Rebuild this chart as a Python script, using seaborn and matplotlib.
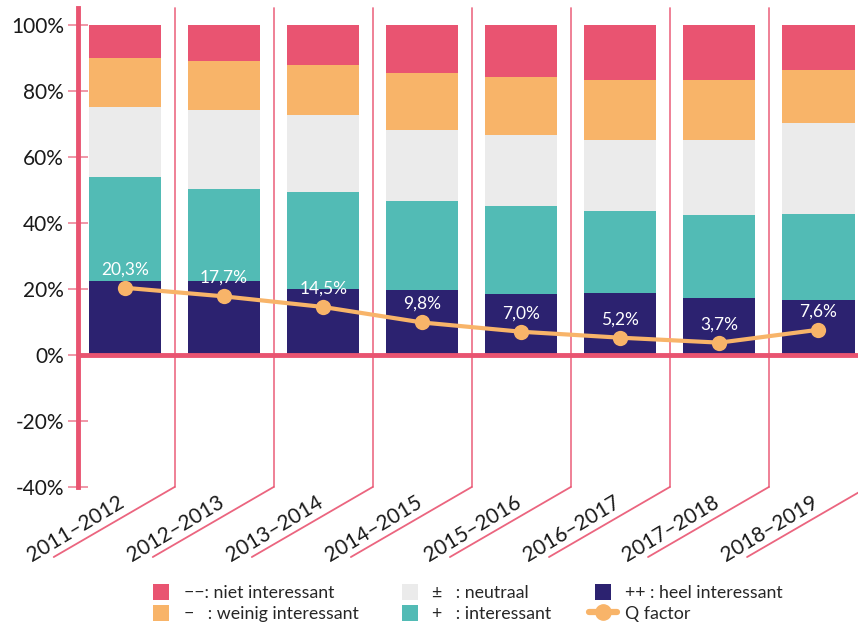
import numpy as np
import pandas as pd
import matplotlib
matplotlib.use("Agg")
import matplotlib.pyplot as plt
from matplotlib.patches import Patch, Rectangle
from matplotlib.lines import Line2D
from matplotlib.legend_handler import HandlerPatch
import seaborn as sns

# Seasons and answer shares (percent of respondents)
seasons = ["2011–2012", "2012–2013", "2013–2014", "2014–2015",
           "2015–2016", "2016–2017", "2017–2018", "2018–2019"]
heel_interessant = [22.4, 22.4, 20.0, 19.7, 18.5, 18.8, 17.2, 16.6]
interessant = [31.5, 27.8, 29.3, 26.9, 26.6, 24.8, 25.2, 26.1]
neutraal = [21.1, 23.9, 23.3, 21.5, 21.5, 21.5, 22.7, 27.5]
weinig_interessant = [14.9, 14.9, 15.1, 17.2, 17.5, 18.1, 18.1, 16.0]
niet_interessant = [10.1, 11.0, 12.3, 14.7, 15.9, 16.8, 16.8, 13.8]
q_factor = [20.3, 17.7, 14.5, 9.8, 7.0, 5.2, 3.7, 7.6]
y_ticks = [-40, -20, 0, 20, 40, 60, 80, 100]

PINK = "#E95471"
ORANGE = "#F8B469"
GREY = "#EBEBEB"
TEAL = "#52BBB5"
NAVY = "#2C2270"

sns.set_style("white")
plt.rcParams["font.family"] = ["Lato", "DejaVu Sans"]

fig = plt.figure(figsize=(8.58, 6.27), dpi=100)
ax = fig.add_axes([78 / 858, 140 / 627, 780 / 858, 479 / 627])

# stacked bars: draw cumulative totals from the top layer down
layers = [
    ("−−: niet interessant", niet_interessant, PINK),
    ("−   : weinig interessant", weinig_interessant, ORANGE),
    ("±   : neutraal", neutraal, GREY),
    ("+   : interessant", interessant, TEAL),
    ("++ : heel interessant", heel_interessant, NAVY),
]
stack = np.zeros(len(seasons))
tops = []
for name, vals, col in reversed(layers):
    stack = stack + np.array(vals)
    tops.append((name, stack.copy(), col))
for name, top, col in reversed(tops):
    df = pd.DataFrame({"season": seasons, "value": top})
    sns.barplot(data=df, x="season", y="value", color=col, width=0.73,
                saturation=1, linewidth=0, ax=ax, zorder=2)

# Q factor line
qdf = pd.DataFrame({"pos": np.arange(len(seasons)), "q": q_factor})
sns.lineplot(data=qdf, x="pos", y="q", color=ORANGE, lw=3, marker="o",
             markersize=11, markeredgewidth=0, ax=ax, zorder=5)
for i, q in enumerate(q_factor):
    ax.text(i, q + 5.6, f"{q:.1f}%".replace(".", ","), color="white",
            ha="center", va="center", fontsize=12.5, zorder=6)

ax.set_xlim(-0.475, 7.40)
ax.set_ylim(-40, 105)
ax.set_xlabel("")
ax.set_ylabel("")
ax.set_xticks([])

# zero line and column separators
ax.axhline(0, color=PINK, lw=3.5, zorder=4)
for i in range(len(seasons)):
    x0 = i + 0.5
    if i < len(seasons) - 1:
        ax.plot([x0, x0], [-40, 105], color=PINK, lw=1.3, alpha=0.8,
                zorder=3, clip_on=False)
    ax.plot([x0, x0 - 1.22], [-40, -61.2], color=PINK, lw=1.3, alpha=0.9,
            zorder=3, clip_on=False)
    ax.text(i + 0.01, -45.8, seasons[i], rotation=31, rotation_mode="anchor",
            ha="right", va="baseline", fontsize=15, color="#1a1a1a")

# y axis styling
for s in ["top", "right", "bottom"]:
    ax.spines[s].set_visible(False)
ax.spines["left"].set_color(PINK)
ax.spines["left"].set_linewidth(3.5)
ax.set_yticks(y_ticks)
ax.set_yticklabels([f"{v}%" for v in y_ticks], fontsize=15, color="#1a1a1a")
ax.tick_params(axis="y", direction="inout", length=14, width=1.3,
               color="#EF8FA0", pad=3, left=True)


class SquareHandler(HandlerPatch):
    def create_artists(self, legend, orig_handle, xdescent, ydescent,
                       width, height, fontsize, trans):
        s = 0.9 * fontsize
        p = Rectangle((-xdescent + (width - s) / 2, -ydescent + (height - s) / 2),
                      s, s, facecolor=orig_handle.get_facecolor(),
                      edgecolor="none", transform=trans)
        return [p]


handles = [Patch(facecolor=c) for _, _, c in layers]
labels = [n for n, _, _ in layers]
handles.append(Line2D([], [], color=ORANGE, lw=4.5, marker="o", markersize=11))
labels.append("Q factor")
handler_map = {Patch: SquareHandler()}
fig.legend(handles, labels, ncol=3, loc="center", bbox_to_anchor=(0.542, 0.038),
           frameon=False, fontsize=12.8, handlelength=1.6, handleheight=1.0,
           handletextpad=0.45, columnspacing=2.1, labelspacing=0.2,
           handler_map=handler_map)

fig.savefig("out.png", dpi=100)
